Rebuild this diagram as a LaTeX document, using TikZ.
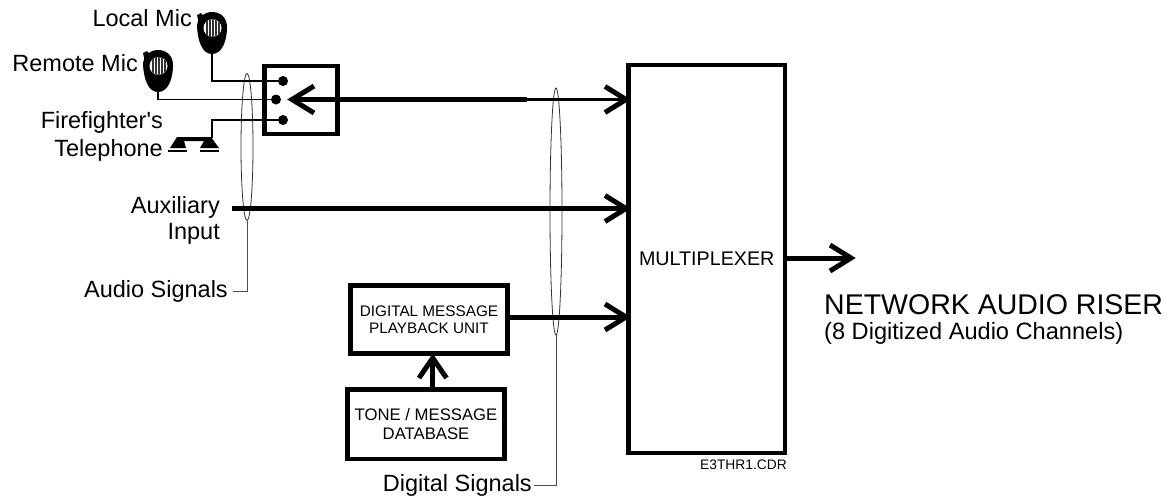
\documentclass[tikz,border=0pt]{standalone}
\usepackage{fontspec}
\usetikzlibrary{shapes.geometric}
\setmainfont{Liberation Sans}
\newfontfamily\plainapos{Liberation Sans}
\tikzset{
  thick box/.style={draw=black,line width=4.5pt,fill=white,align=center,inner sep=0pt},
  lab/.style={inner sep=0pt,align=right,font=\fontsize{23.5}{27}\selectfont},
  wire/.style={draw=black,line width=1.8pt},
  sig/.style={draw=black,line width=5pt},
  tip/.style={draw=black,line width=5pt,line cap=butt},
  hair/.style={draw=black!70,line width=1pt},
  oval/.style={draw=black!80,line width=0.8pt,ellipse,inner sep=0pt},
}
\newcommand{\headR}[2]{\draw[tip] (#1-22,#2-13) -- (#1-1,#2) -- (#1-22,#2+13);}
\newcommand{\mike}[2]{%
 \begin{scope}[shift={(#1,#2)}]
  \fill[black] (-15,-6) .. controls (-15,-15) and (-8,-21) .. (0,-21) .. controls (9,-21) and (15,-15) .. (15,-6)
    .. controls (15,8) and (10,21) .. (0,21) .. controls (-10,21) and (-14,8) .. (-15,-6) -- cycle;
  \fill[black] (-15,-18) -- (-11,-20) -- (-6,-14) -- (-13,-9) -- cycle;
  \fill[white] (0.5,-5) ellipse (9 and 8.8);
  \begin{scope}
   \clip (0.5,-5) ellipse (9 and 8.8);
   \foreach \i in {-5,-2,1,4,7}{\draw[black!80,line width=1.2pt] (\i,-15) -- (\i,5);}
  \end{scope}
 \end{scope}}
\begin{document}
\begin{tikzpicture}[x=1pt,y=-1pt]
\useasboundingbox (0,0) rectangle (1169,499);
% ovals
\node[oval,minimum width=12pt,minimum height=147pt] (ovalA) at (247,147) {};
\node[oval,minimum width=12pt,minimum height=247pt] (ovalD) at (556,211.5) {};
% switch
\node[thick box,minimum width=73pt,minimum height=68pt] (sw) at (301,100) {};
\fill[black] (283,81) circle (5) coordinate (d1);
\fill[black] (276,99.5) circle (5) coordinate (d2);
\fill[black] (283,120) circle (5) coordinate (d3);
% mux
\node[thick box,minimum width=156.5pt,minimum height=388pt,font=\fontsize{19.7}{23}\selectfont] (mux) at (706.7,259) {MULTIPLEXER};
% boxes
\node[thick box,minimum width=157pt,minimum height=68pt,font=\fontsize{15.3}{16.5}\selectfont] (dm) at (429,319.5) {DIGITAL MESSAGE\\PLAYBACK UNIT};
\node[thick box,minimum width=157pt,minimum height=69.5pt,font=\fontsize{16.7}{19}\selectfont] (tm) at (426,424) {TONE / MESSAGE\\DATABASE};
% mics
\mike{212}{33}
\mike{158}{71}
% wires
\coordinate (m1) at (212,54);
\coordinate (m2) at (158,92);
\draw[wire] (m1) |- (d1);
\draw[wire] (m2) |- (d2);
\draw[wire] (d3) -| (212,138);
% phone
\fill[black] (177,137) -- (211,137) -- (219,148) -- (200,148) -- (204,141) -- (184,141) -- (186,148) -- (170,148) -- cycle;
\fill[black] (168,149.5) rectangle (187,151.5);
\fill[black] (200,149.5) rectangle (219,151.5);
% signals
\coordinate (a0) at (291,99.5);
\coordinate (a1) at (527,99.5);
\coordinate (a2) at (627,99.5);
\draw[sig] (a0) -- (a1);
\draw[draw=black,line width=3pt] (a1) -- (a2);
\draw[tip] (314,86) -- (292,99.5) -- (314,113);
\headR{627}{99.5}
\coordinate (b0) at (232,208.5);
\draw[sig] (b0) -- (625,208.5);
\headR{627}{208.5}
\draw[sig] (dm.east |- 0,317) -- (625,317);
\headR{627}{317}
\coordinate (tu) at (432.7,389);
\draw[sig] (tu) -- (432.7,358);
\draw[tip] (419,378) -- (432.7,358) -- (446.5,378);
\draw[sig] (mux.east |- 0,258) -- (850,258);
\headR{852}{258}
% leaders
\node[lab,anchor=east] (las) at (228,291) {Audio Signals};
\node[lab,anchor=east] (lds) at (532,485) {Digital Signals};
\draw[hair] (ovalA.south) |- ([xshift=5pt]las.east);
\draw[hair] (ovalD.south) |- ([xshift=2pt]lds.east);
% labels
\node[lab,anchor=east] at (192,18) {Local Mic};
\node[lab,anchor=east] at (138,63) {Remote Mic};
\node[lab,anchor=east,font=\fontsize{23.5}{28}\selectfont] at (163,136) {Firefighter{\plainapos '}s\\Telephone};
\node[lab,anchor=east,font=\fontsize{23.5}{26}\selectfont] at (220,220) {Auxiliary\\Input};
\node[inner sep=0pt,anchor=west,font=\fontsize{28.5}{32}\selectfont] at (824,305) {NETWORK AUDIO RISER};
\node[inner sep=0pt,anchor=west,font=\fontsize{23.6}{27}\selectfont] at (824,333) {(8 Digitized Audio Channels)};
\node[inner sep=0pt,anchor=east,font=\fontsize{13.8}{16}\selectfont] at (787,465) {E3THR1.CDR};
\end{tikzpicture}
\end{document}
